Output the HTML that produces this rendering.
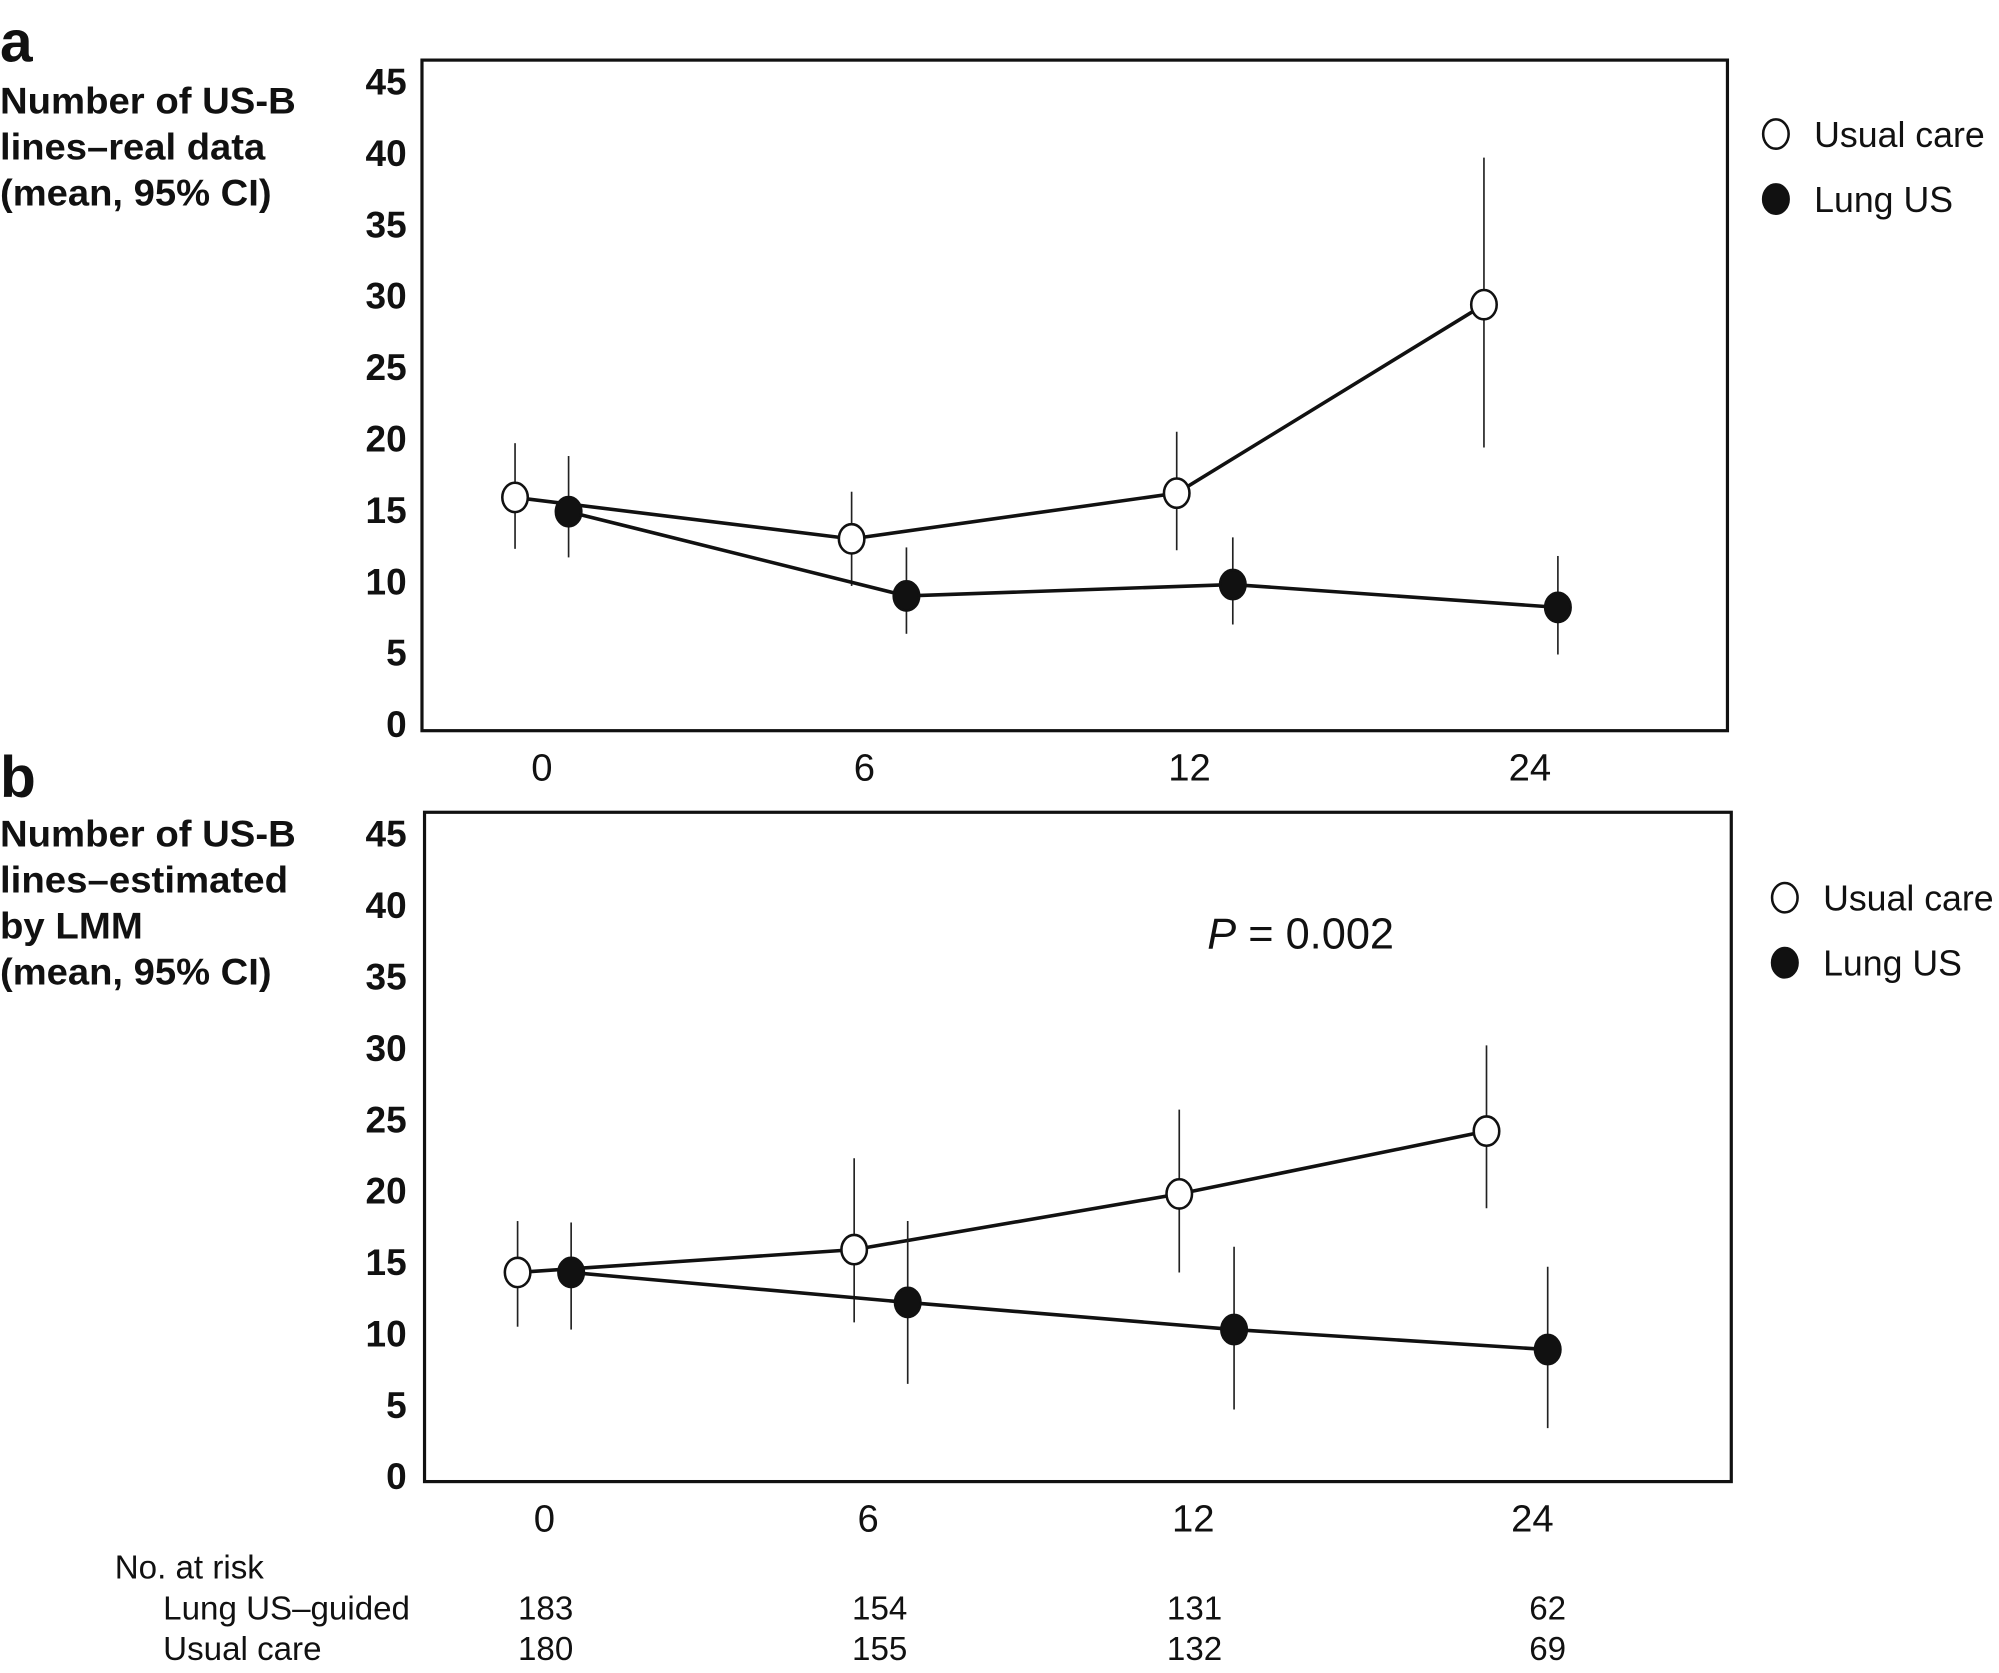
<!DOCTYPE html>
<html><head><meta charset="utf-8"><style>
html,body{margin:0;padding:0;background:#fff;}
svg{display:block;}
text{font-family:"Liberation Sans",sans-serif;fill:#111;}
</style></head><body>
<svg id="fig" width="1999" height="1673" viewBox="0 0 1568 1312">
<rect x="0" y="0" width="1568" height="1312" fill="#fff"/>
<text x="0" y="48" font-size="46" font-weight="bold">a</text>
<g font-size="29" font-weight="bold">
<text x="0" y="89" textLength="232" lengthAdjust="spacingAndGlyphs">Number of US-B</text><text x="0" y="125" textLength="208" lengthAdjust="spacingAndGlyphs">lines–real data</text><text x="0" y="161" textLength="213" lengthAdjust="spacingAndGlyphs">(mean, 95% CI)</text></g>
<text x="0" y="625" font-size="46" font-weight="bold">b</text>
<g font-size="29" font-weight="bold">
<text x="0" y="664" textLength="232" lengthAdjust="spacingAndGlyphs">Number of US-B</text><text x="0" y="700" textLength="226" lengthAdjust="spacingAndGlyphs">lines–estimated</text><text x="0" y="736" textLength="112" lengthAdjust="spacingAndGlyphs">by LMM</text><text x="0" y="772" textLength="213" lengthAdjust="spacingAndGlyphs">(mean, 95% CI)</text></g>
<text x="947" y="744" font-size="34"><tspan font-style="italic">P</tspan> = 0.002</text>
<g font-size="26">
<text x="90" y="1238">No. at risk</text>
<text x="128" y="1270">Lung US–guided</text>
<text x="128" y="1302">Usual care</text>
</g>
<g id="plots"></g>
</svg>
<script>
const timeLabels=["0","6","12","24"];
const yTicks=[0,5,10,15,20,25,30,35,40,45];
const aUsual=[15.8,12.9,16.1,29.3];
const aUsualLo=[12.2,9.6,12.1,19.3];
const aUsualHi=[19.6,16.2,20.4,39.6];
const aLung=[14.8,8.9,9.7,8.1];
const aLungLo=[11.6,6.25,6.9,4.8];
const aLungHi=[18.7,12.3,13.0,11.7];
const bUsual=[14.2,15.8,19.7,24.1];
const bUsualLo=[10.4,10.7,14.2,18.7];
const bUsualHi=[17.8,22.2,25.6,30.1];
const bLung=[14.2,12.1,10.2,8.8];
const bLungLo=[10.2,6.4,4.6,3.3];
const bLungHi=[17.7,17.8,16.0,14.6];
const riskLung=["183","154","131","62"];
const riskUsual=["180","155","132","69"];

const NS="http://www.w3.org/2000/svg";
const root=document.getElementById('plots');
function mk(tag,attrs,parent){const e=document.createElementNS(NS,tag);for(const k in attrs)e.setAttribute(k,attrs[k]);(parent||root).appendChild(e);return e;}

function panel(id,box,labelX,uX,lX,uv,ulo,uhi,lv,llo,lhi,legX,legY){
  const g=mk('g',{});
  
  
  const y=v=>box.y0-v*11.2;
  const xu=i=>uX[i], xl=i=>lX[i];
  const f=mk('rect',{x:box.x1,y:box.top,width:box.x2-box.x1,height:box.bottom-box.top,fill:'none',stroke:'#111','stroke-width':2.5},g);
  
  
  yTicks.forEach(v=>{const t=mk('text',{x:319,y:y(v)+11,'text-anchor':'end','font-size':29,'font-weight':'bold'},g);t.textContent=v;
    
    });
  timeLabels.forEach((s,i)=>{const t=mk('text',{x:labelX[i],y:box.bottom+39,'text-anchor':'middle','font-size':30},g);t.textContent=s;
    
    });
  function series(vals,lo,hi,xf,fill,name){
    for(let i=0;i<vals.length;i++){const l=mk('line',{x1:xf(i),x2:xf(i),y1:y(lo[i]),y2:y(hi[i]),stroke:'#222','stroke-width':1.3},g);
      
      }
    const p=mk('polyline',{points:vals.map((v,i)=>xf(i)+','+y(v)).join(' '),fill:'none',stroke:'#111','stroke-width':2.8},g);
    
    
    vals.forEach((v,i)=>{const c=mk('ellipse',{cx:xf(i),cy:y(v),rx:10,ry:11.5,fill:fill,stroke:'#111','stroke-width':2},g);
      
      });
  }
  series(uv,ulo,uhi,xu,'#fff','usual-care');
  series(lv,llo,lhi,xl,'#111','lung-us');
  const c1=mk('ellipse',{cx:legX,cy:legY,rx:10,ry:11.5,fill:'#fff',stroke:'#111','stroke-width':2},g);
  
  
  const t1=mk('text',{x:legX+30,y:legY+10,'font-size':28},g);t1.textContent='Usual care';
  
  
  const c2=mk('ellipse',{cx:legX,cy:legY+51,rx:10,ry:11.5,fill:'#111',stroke:'#111','stroke-width':2},g);
  
  
  const t2=mk('text',{x:legX+30,y:legY+61,'font-size':28},g);t2.textContent='Lung US';
  
  
}
panel('panel-a',{x1:331,x2:1355,top:47,bottom:573,y0:567},[425,678,933,1200],[404,668,923,1164],[446,711,967,1222],aUsual,aUsualLo,aUsualHi,aLung,aLungLo,aLungHi,1393,105);
panel('panel-b',{x1:333,x2:1358,top:637,bottom:1162,y0:1157},[427,681,936,1202],[406,670,925,1166],[448,712,968,1214],bUsual,bUsualLo,bUsualHi,bLung,bLungLo,bLungHi,1400,704);

const riskX=[428,690,937,1214];
riskLung.forEach((s,i)=>{const t=mk('text',{x:riskX[i],y:1270,'text-anchor':'middle','font-size':26});t.textContent=s;
  
  });
riskUsual.forEach((s,i)=>{const t=mk('text',{x:riskX[i],y:1302,'text-anchor':'middle','font-size':26});t.textContent=s;
  
  });
</script>
</body></html>
